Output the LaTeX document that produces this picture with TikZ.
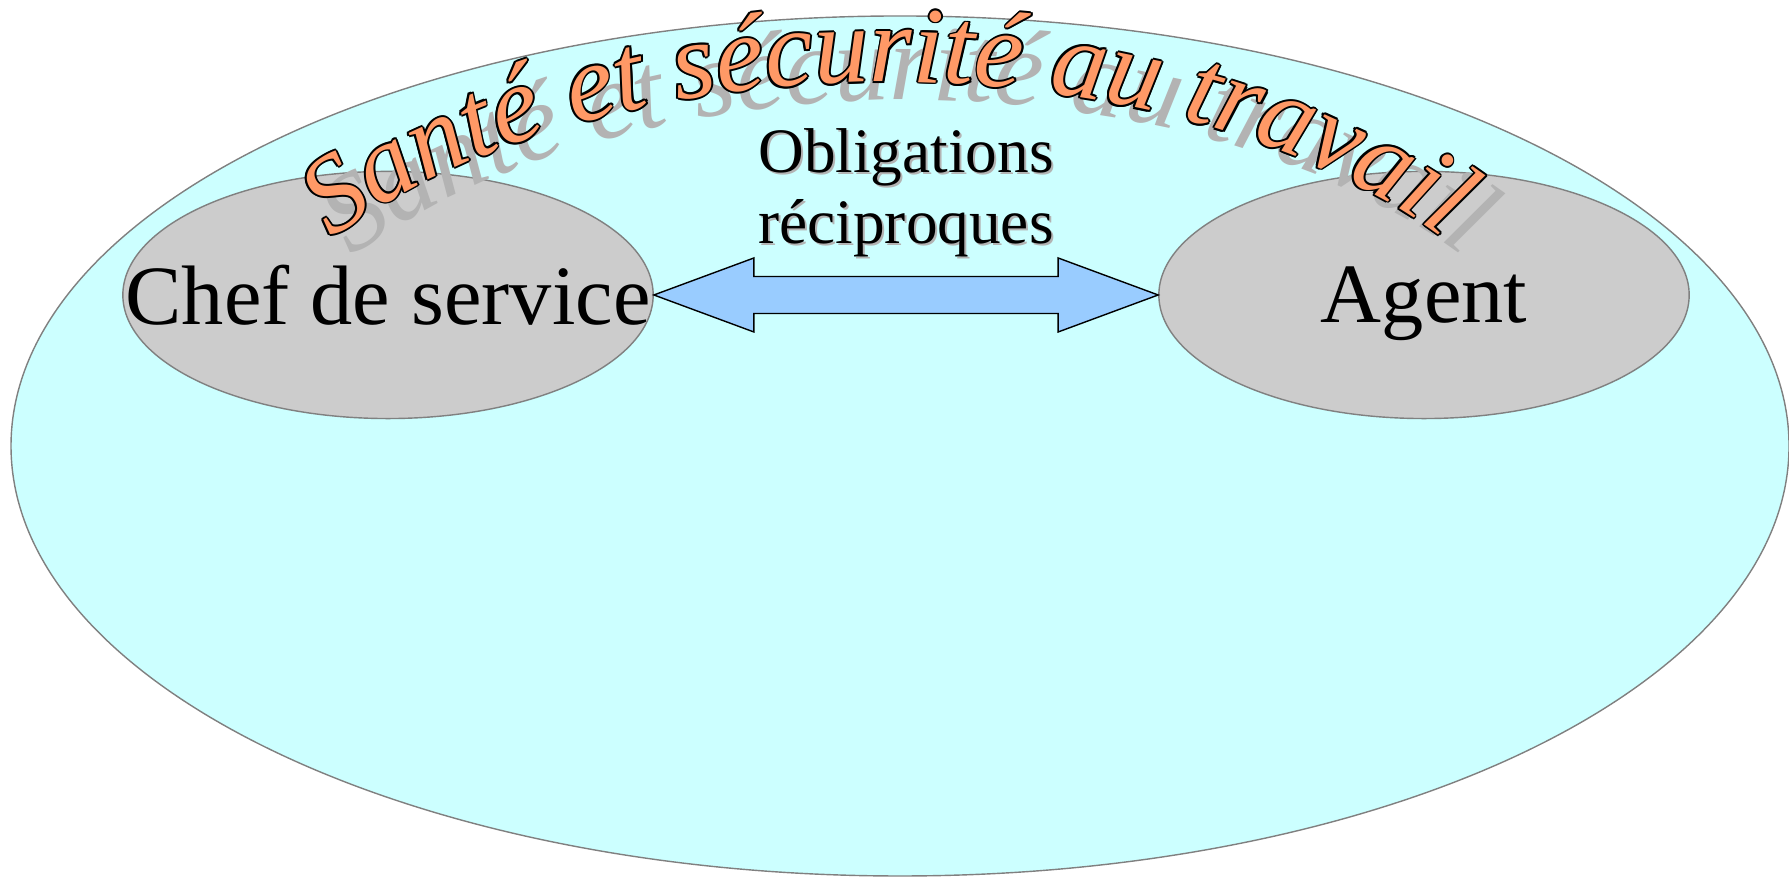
\documentclass[tikz,border=0pt]{standalone}
\usepackage{fontspec}
\setmainfont{Liberation Serif}
\newfontfamily\arcfont{Liberation Serif Italic}
\usepackage{tikz}
\usetikzlibrary{
  	positioning,
  	calc,
  	shapes,
  	decorations.text
  }
\definecolor{fond}{HTML}{CCFFFF}
\definecolor{grisclair}{HTML}{CCCCCC}
\definecolor{fleche}{HTML}{99CCFF}
\definecolor{saumon}{HTML}{FF9966}
\definecolor{ombre}{HTML}{B3B3B3}
\definecolor{bord}{HTML}{808080}
\tikzstyle{pole}=[ellipse,draw=bord,fill=grisclair,inner sep=0pt,minimum width=5.3cm,minimum height=2.47cm]
\tikzstyle{nom}=[inner sep=0pt,text depth=0pt,font=\fontsize{24}{28}\selectfont]
\tikzstyle{oblig}=[inner sep=0pt,align=center,anchor=south,font=\fontsize{18}{20.2}\selectfont]
\tikzstyle{dbl}=[draw=black,fill=fleche,line join=miter]

\begin{document}
\begin{tikzpicture}[x=0.01cm,y=0.01cm]
\useasboundingbox (0,0) rectangle (1789,877);
\draw[draw=bord,fill=fond] (900,431) ellipse [x radius=889,y radius=430];
\node[pole] (chef) at (388,582) {};
\node[pole] (agent) at (1424,582) {};
\node[nom] (chefnom) at (chef) {Chef de service};
\node[nom] (agentnom) at (agent) {Agent};
\draw[dbl] (chef.east) -- ++(100,37) -- ++(0,-18.5) -- ($(agent.west)+(-100,18.5)$) -- ++(0,18.5)
   -- (agent.west) -- ++(-100,-37) -- ++(0,18.5) -- ($(chef.east)+(100,-18.5)$) -- ++(0,-18.5) -- cycle;
\coordinate (milieu) at ($(chef.east)!0.5!(agent.west)$);
\node[oblig,text=ombre] (obligombre) [above=0.37cm of milieu,xshift=0.02cm,yshift=-0.02cm] {Obligations\\réciproques};
\node[oblig] (obligtexte) [above=0.37cm of milieu] {Obligations\\réciproques};
\foreach \dx/\dy/\col in {20/-18/ombre,1.9/0/black,-1.9/0/black,0/1.9/black,0/-1.9/black,
   1.35/1.35/black,-1.35/1.35/black,1.35/-1.35/black,-1.35/-1.35/black,0/0/saumon}
  {\arcfont\fontsize{31}{31}\selectfont
  \path[decorate,decoration={text along path,text align=center,
     text={|\color{\col}|Santé et sécurité au travail}}]
     (888+\dx,395+\dy) ++(155:700 and 400) arc[start angle=155,end angle=25,x radius=700,y radius=400];}
\end{tikzpicture}
\end{document}
